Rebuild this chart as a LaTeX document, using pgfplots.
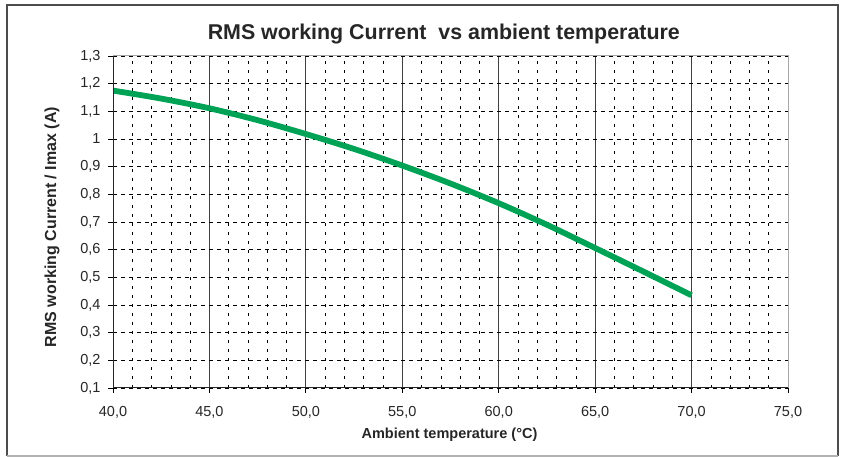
\documentclass[border=0pt]{standalone}
\usepackage{fontspec}
\setmainfont{Liberation Sans}
\usepackage{pgfplots}
\pgfplotsset{compat=1.18}
\definecolor{curvegreen}{RGB}{0,163,86}
\begin{document}
\begin{tikzpicture}
\useasboundingbox (0,0) rectangle (842pt,457pt);
\begin{axis}[
  at={(113pt,69pt)}, anchor=south west,
  scale only axis, width=675pt, height=332pt,
  xmin=40, xmax=75, ymin=0.1, ymax=1.3,
  xtick={40,45,50,55,60,65,70,75},
  ytick={0.1,0.2,0.3,0.4,0.5,0.6,0.7,0.8,0.9,1.0,1.1,1.2,1.3},
  minor x tick num=4,
  xtick pos=bottom, ytick pos=left,
  tick align=outside,
  major tick length=5pt, minor tick length=0pt,
  tick style={black, line width=0.8pt},
  xmajorgrids, xminorgrids, ymajorgrids,
  major x grid style={black!75, line width=0.9pt},
  minor x grid style={black, line width=0.6pt, dash pattern=on 3pt off 6pt},
  major y grid style={black, line width=0.6pt, dash pattern=on 4pt off 4pt},
  axis line style={gray!70, line width=1pt},
  /pgf/number format/assume math mode=true,
  tick label style={font=\fontsize{14.5}{16}\selectfont, text=black!85},
  xticklabel style={anchor=base, yshift=-24pt, /pgf/number format/.cd, use comma, fixed, fixed zerofill, precision=1},
  yticklabel style={anchor=east, xshift=-4pt, /pgf/number format/.cd, use comma, fixed, precision=1},
]
\addplot[curvegreen, line width=5.8pt, smooth] coordinates {
(40,1.175) (42.5,1.146) (45,1.111) (47.5,1.068) (50,1.018) (52.5,0.964)
(55,0.904) (57.5,0.839) (60,0.768) (62.5,0.690) (65,0.606) (67.5,0.521) (70,0.435)
};
\draw[black!85, line width=1.2pt] (rel axis cs:0,1) -- (rel axis cs:0,0) -- (rel axis cs:1,0);
\end{axis}
\node[anchor=base, font=\bfseries\fontsize{21.4}{24}\selectfont, text=black!85] at (443.8pt,417.7pt) {RMS working Current\ \ vs ambient temperature};
\node[anchor=base, font=\bfseries\fontsize{14.5}{16}\selectfont, text=black!85] at (449.5pt,18.7pt) {Ambient temperature (°C)};
\node[anchor=base, rotate=90, font=\bfseries\fontsize{16}{18}\selectfont, text=black!85] at (56pt,230pt) {RMS working Current / Imax (A)};
\draw[black!70, line width=1.5pt] (838pt,1pt) -- (838pt,452pt) -- (7pt,452pt) -- (7pt,1pt);
\draw[black!30, line width=1.5pt] (7pt,1pt) -- (838pt,1pt);
\end{tikzpicture}
\end{document}
